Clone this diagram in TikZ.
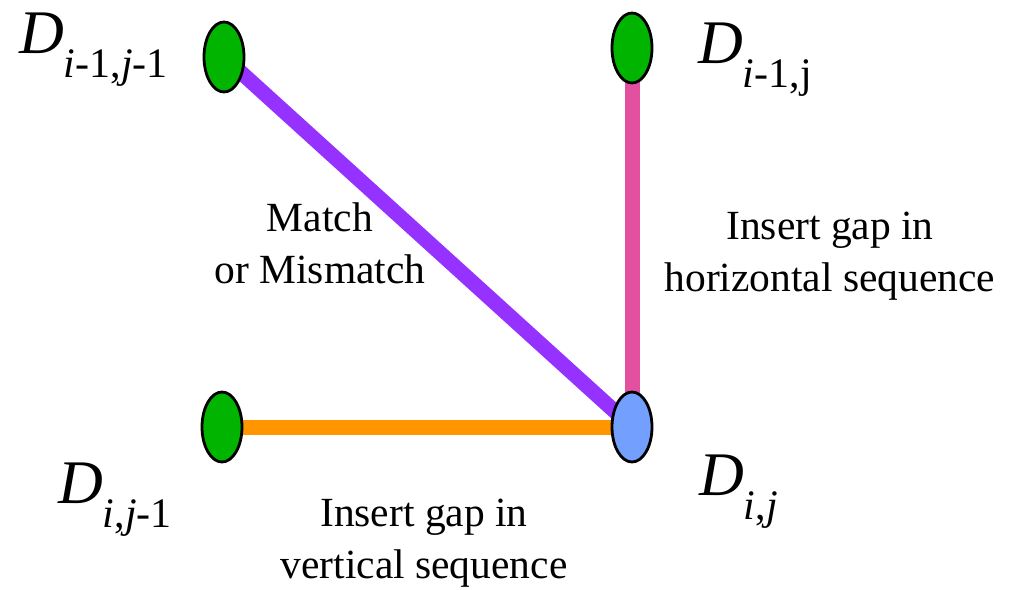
\documentclass[tikz,border=0pt]{standalone}
\usepackage{fontspec}
\setmainfont{Liberation Serif}
\usetikzlibrary{shapes.geometric,backgrounds}
\definecolor{dgreen}{RGB}{0,180,0}
\definecolor{dpurple}{RGB}{150,50,255}
\definecolor{dpink}{RGB}{228,80,160}
\definecolor{dorange}{RGB}{255,150,0}
\definecolor{dblue}{RGB}{115,160,255}
\newcommand{\Dlab}[1]{{\fontsize{62}{62}\selectfont\textit{D}}\raisebox{-24pt}{\fontsize{42}{42}\selectfont #1}}
\tikzset{
  cell/.style={ellipse, draw=black, line width=2.8pt, minimum width=40pt, minimum height=70pt, inner sep=0pt},
  conn/.style={line width=15pt},
  lbl/.style={font=\fontsize{41.5}{52}\selectfont, align=center, inner sep=0pt},
  dl/.style={anchor=base west, inner sep=0pt}
}
\begin{document}
\begin{tikzpicture}[x=1pt,y=-1pt]
\useasboundingbox (0,0) rectangle (1022,589);
\node[cell, fill=dgreen] (tl) at (224,57) {};
\node[cell, fill=dgreen] (tr) at (632,48) {};
\node[cell, fill=dgreen] (bl) at (222,427) {};
\node[cell, fill=dblue] (br) at (632,427) {};
\begin{scope}[on background layer]
\draw[conn, dpurple] (tl.center) -- (br.center);
\draw[conn, dpink] (tr.center) -- (br.center);
\draw[conn, dorange] (bl.center) -- (br.center);
\end{scope}
\node[dl] (ltl) at (19,53) {\Dlab{\textit{i}-1,\textit{j}-1}};
\node[dl] (ltr) at (698,63) {\Dlab{\textit{i}-1,j}};
\node[dl] (lbl) at (58,503) {\Dlab{\textit{i},\textit{j}-1}};
\node[dl] (lbr) at (699,495) {\Dlab{\textit{i},\textit{j}}};
\node[lbl] (mm) at (320,243) {Match\\or Mismatch};
\node[lbl] (hg) at (830,256) {Insert gap in\\horizontal sequence};
\node[lbl] (vg) at (424,543) {Insert gap in\\vertical sequence};
\end{tikzpicture}
\end{document}
